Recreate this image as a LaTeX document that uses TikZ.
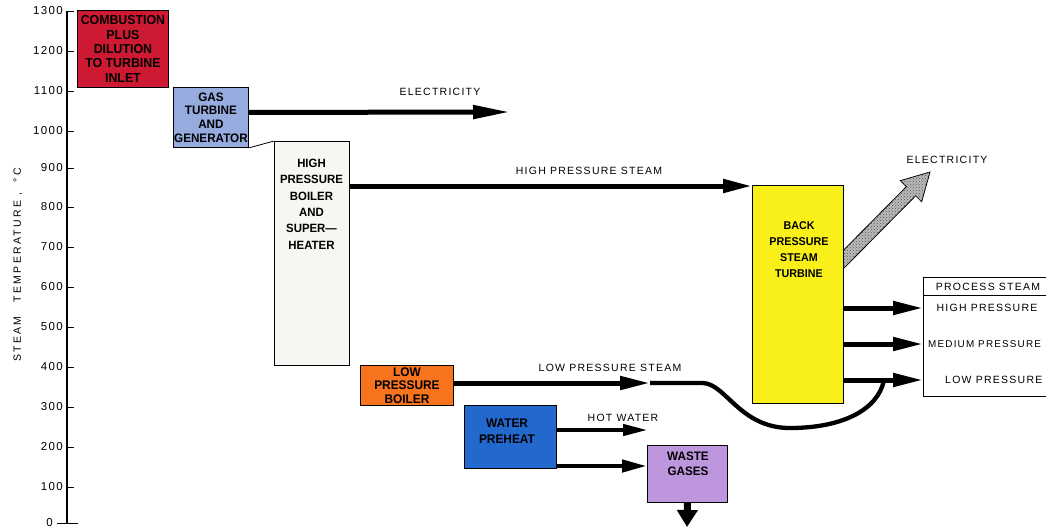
\documentclass[tikz,border=0pt]{standalone}
\usepackage{fontspec}
\setmainfont{Liberation Sans}
\newfontfamily\bxfont[FakeStretch=0.95]{Liberation Sans}
\newfontfamily\lbfont[LetterSpace=12]{Liberation Sans}
\newfontfamily\axfont[LetterSpace=22]{Liberation Sans}
\usetikzlibrary{arrows.meta,patterns,calc}
\newcommand\bxf[2]{\bxfont\bfseries\fontsize{#1}{#2}\selectfont}
\definecolor{cred}{RGB}{205,25,50}
\definecolor{cgt}{RGB}{150,172,222}
\definecolor{chp}{RGB}{246,246,242}
\definecolor{corg}{RGB}{247,115,30}
\definecolor{cwp}{RGB}{35,105,205}
\definecolor{cwg}{RGB}{190,150,222}
\definecolor{cyel}{RGB}{250,240,25}
\begin{document}
\begin{tikzpicture}[x=1pt,y=-1pt,
  box/.style={draw=black, line width=0.9pt, inner sep=0pt, anchor=north west, align=center},
  flowarr/.style={line width=5pt, -{Triangle[length=30pt,width=13pt]}},
  lbl/.style={font=\lbfont\fontsize{10.5}{12}\selectfont, inner sep=0pt},
  ticklbl/.style={font=\lbfont\fontsize{11.5}{12}\selectfont, inner sep=0pt, anchor=east},
  axtick/.style={line width=1pt}]
\useasboundingbox (0,0) rectangle (1046,531);
\clip (0,0) rectangle (1046,531);

% axis
\draw[line width=1.2pt] (67,11) -- (67,523);
\foreach \v/\yy in {1300/11,1200/51,1100/91,1000/131,900/168,800/207,700/247,600/287,500/327,400/367,300/407,200/447,100/487}{
  \draw[axtick] (67,\yy) -- (74,\yy);
  \node[ticklbl] (t\v) at (63,\yy) {\v};
}
\draw[axtick] (57,523) -- (78,523);
\node[ticklbl] (t0) at (53,523) {0};
\node[rotate=90, font=\axfont\fontsize{10.5}{12}\selectfont, inner sep=0pt] (axt) at (18,265) {STEAM\hspace{9pt} TEMPERATURE ,\hspace{5pt} °C};

% hatched electricity arrow (drawn first, turbine covers its base)
\coordinate (ea) at (836,267);
\coordinate (eb) at (930,172);
\coordinate (eh) at ($(eb)!27pt!(ea)$);
\draw[line width=0.8pt, fill=gray!55, postaction={pattern=crosshatch dots, pattern color=black!65}]
  ($(ea)!6.5pt!90:(eb)$) -- ($(eh)!6.5pt!-90:(ea)$) -- ($(eh)!15pt!-90:(ea)$) -- (eb)
  -- ($(eh)!15pt!90:(ea)$) -- ($(eh)!6.5pt!90:(ea)$) -- ($(ea)!6.5pt!-90:(eb)$) -- cycle;

% boxes
\node[box, fill=cred, minimum width=91pt, minimum height=77pt, font={\bxf{13}{14.3}}] (comb) at (77,10)
  {COMBUSTION\\PLUS\\DILUTION\\TO TURBINE\\INLET};
\node[box, fill=cgt, minimum width=75pt, minimum height=60pt, font={\bxf{12.3}{13.7}}] (gt) at (173,87)
  {GAS\\TURBINE\\AND\\GENERATOR};
\node[box, fill=chp, minimum width=75pt, minimum height=224pt] (hpb) at (274,141) {};
\node[anchor=north, inner sep=0pt, align=center, font={\bxf{12}{16.3}}] (hpbt) at (311.5,159)
  {HIGH\\PRESSURE\\BOILER\\AND\\SUPER—\\HEATER};
\draw[line width=0.8pt] (gt.south east) -- (hpb.north west);
\node[box, fill=corg, minimum width=93pt, minimum height=40pt, font={\bxf{12.5}{13.5}}] (lpb) at (360,365)
  {LOW\\PRESSURE\\BOILER};
\node[box, fill=cwp, minimum width=92pt, minimum height=63pt] (wph) at (464,405) {};
\node[inner sep=0pt, align=center, font={\bxf{12.5}{16.5}}] (wpht) at (507,431) {WATER\\PREHEAT};
\node[box, fill=cwg, minimum width=80pt, minimum height=57pt] (wg) at (647,445) {};
\node[anchor=north, inner sep=0pt, align=center, font={\bxf{12.3}{15}}] (wgt) at (688,452) {WASTE\\GASES};
\node[box, fill=cyel, minimum width=91pt, minimum height=218pt] (bpt) at (752,185) {};
\node[anchor=north, inner sep=0pt, align=center, font={\bxf{11.3}{16}}] (bptt) at (799,221)
  {BACK\\PRESSURE\\STEAM\\TURBINE};
\node[box, fill=white, minimum width=150pt, minimum height=119pt] (ps) at (923,277) {};
\draw[line width=0.9pt] (ps.west |- 0,295) -- (ps.east |- 0,295);
\node[lbl] (pst) at (988,287) {PROCESS STEAM};
\node[lbl] (psh) at (987,308) {HIGH PRESSURE};
\node[lbl, anchor=west, font=\lbfont\fontsize{9.9}{12}\selectfont] (psm) at (928,344) {MEDIUM PRESSURE};
\node[lbl, anchor=west] (psl) at (945,380) {LOW PRESSURE};

% flows
\coordinate (e1) at (510,112);
\draw[line width=5pt, -{Triangle[length=37pt,width=13pt]}] ([yshift=5pt]gt.east) -- (e1);
\node[lbl] (e1l) at (440,92) {ELECTRICITY};

\draw[flowarr, -{Triangle[length=29pt,width=13pt]}] (hpb.east |- 0,186) -- (bpt.west |- 0,186);
\node[lbl] (hpsl) at (589,171) {HIGH PRESSURE STEAM};

\coordinate (lpa) at (650,383);
\draw[line width=4.3pt] (lpa) -- (703,383) .. controls (726,384) and (740,428) .. (790,428)
  .. controls (842,428) and (878,410) .. (884,380);
\draw[flowarr] (lpb.east |- lpa) -- (lpa);
\node[lbl] (lpsl) at (610,368) {LOW PRESSURE STEAM};

\coordinate (hw) at (648,430);
\draw[line width=4.3pt, -{Triangle[length=25pt,width=11pt]}] (wph.east |- hw) -- (hw);
\node[lbl] (hwl) at (623,418) {HOT WATER};

\draw[line width=4.5pt, -{Triangle[length=25pt,width=12pt]}] (wph.east |- 0,466) -- (wg.west |- 0,466);

\coordinate (wgd) at (687,527);
\draw[line width=7pt, -{Triangle[length=17pt,width=20pt]}] (wg.south) -- (wgd);

\node[lbl] (e2l) at (947,160) {ELECTRICITY};

\foreach \yy in {308,344,380}{
  \draw[flowarr] (bpt.east |- 0,\yy) -- (ps.west |- 0,\yy);
}
\end{tikzpicture}
\end{document}
